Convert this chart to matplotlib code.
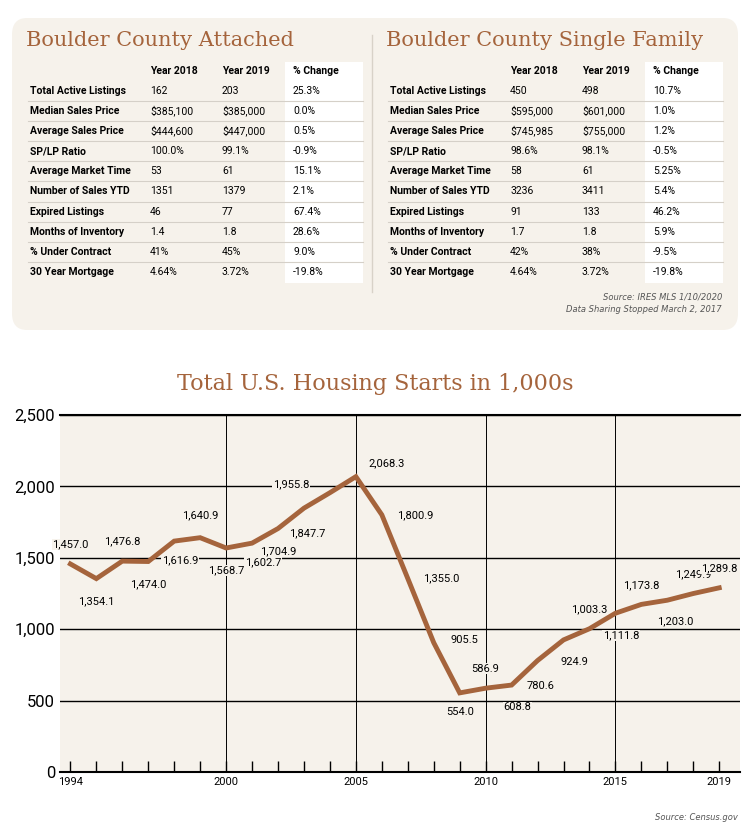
"""Boulder County market tables and U.S. housing starts chart."""

import matplotlib.pyplot as plt
from matplotlib.patches import FancyBboxPatch

BROWN = "#a5643c"
CREAM = "#f6f2eb"
NARROW = ["Liberation Sans Narrow", "Roboto", "DejaVu Sans"]

row_labels = ["Total Active Listings", "Median Sales Price", "Average Sales Price",
              "SP/LP Ratio", "Average Market Time", "Number of Sales YTD",
              "Expired Listings", "Months of Inventory", "% Under Contract",
              "30 Year Mortgage"]
col_headers = ["Year 2018", "Year 2019", "% Change"]

attached_2018 = ["162", "$385,100", "$444,600", "100.0%", "53", "1351", "46", "1.4", "41%", "4.64%"]
attached_2019 = ["203", "$385,000", "$447,000", "99.1%", "61", "1379", "77", "1.8", "45%", "3.72%"]
attached_chg = ["25.3%", "0.0%", "0.5%", "-0.9%", "15.1%", "2.1%", "67.4%", "28.6%", "9.0%", "-19.8%"]

single_2018 = ["450", "$595,000", "$745,985", "98.6%", "58", "3236", "91", "1.7", "42%", "4.64%"]
single_2019 = ["498", "$601,000", "$755,000", "98.1%", "61", "3411", "133", "1.8", "38%", "3.72%"]
single_chg = ["10.7%", "1.0%", "1.2%", "-0.5%", "5.25%", "5.4%", "46.2%", "5.9%", "-9.5%", "-19.8%"]

years = list(range(1994, 2020))
starts = [1457.0, 1354.1, 1476.8, 1474.0, 1616.9, 1640.9, 1568.7, 1602.7, 1704.9,
          1847.7, 1955.8, 2068.3, 1800.9, 1355.0, 905.5, 554.0, 586.9, 608.8,
          780.6, 924.9, 1003.3, 1111.8, 1173.8, 1203.0, 1249.9, 1289.8]

# label offsets in points (style only)
label_offsets = [(0, 14), (0, -16), (0, 14), (0, -16), (4, -14), (0, 16), (0, -16),
                 (8, -14), (0, -16), (2, -18), (-28, 6), (22, 10), (24, 0), (24, 0),
                 (22, 2), (0, -14), (0, 14), (4, -16), (2, -18), (8, -16), (0, 14),
                 (4, -16), (0, 14), (6, -15), (0, 14), (0, 14)]

W, H = 750, 834
fig = plt.figure(figsize=(W / 100, H / 100), dpi=100)
fig.patch.set_facecolor("white")


def fx(px):
    return px / W


def fy(py):
    return 1 - py / H


panel = FancyBboxPatch((fx(12), fy(330)), fx(726), fy(18) - fy(330),
                       boxstyle="round,pad=0,rounding_size=0.02",
                       transform=fig.transFigure, facecolor=CREAM, edgecolor="none")
fig.patches.append(panel)
fig.add_artist(plt.Line2D([fx(372), fx(372)], [fy(35), fy(292)],
                          transform=fig.transFigure, color="#d8d2c8", lw=1))


def draw_table(x0, title, c18, c19, chg):
    fig.text(fx(x0 - 4), fy(40), title, fontsize=15, color=BROWN,
             family="DejaVu Serif", va="center")
    cols = [x0 + 120, x0 + 192, x0 + 263]
    fig.patches.append(plt.Rectangle((fx(x0 + 255), fy(283)), fx(78), fy(62) - fy(283),
                                     transform=fig.transFigure, facecolor="white",
                                     edgecolor="none"))
    for cx, h in zip(cols, col_headers):
        fig.text(fx(cx), fy(71), h, fontsize=7.5, weight="bold", va="center", family=NARROW)
    for i, lab in enumerate(row_labels):
        y = 91 + i * 20.1
        fig.text(fx(x0), fy(y), lab, fontsize=7.5, weight="bold", va="center", family=NARROW)
        for cx, v in zip(cols, (c18[i], c19[i], chg[i])):
            fig.text(fx(cx), fy(y), v, fontsize=7.5, va="center", family=NARROW)
        if i < len(row_labels) - 1:
            fig.add_artist(plt.Line2D([fx(x0 - 2), fx(x0 + 333)], [fy(y + 10), fy(y + 10)],
                                      transform=fig.transFigure, color="#d5d0c8", lw=0.8))


draw_table(30, "Boulder County Attached", attached_2018, attached_2019, attached_chg)
draw_table(390, "Boulder County Single Family", single_2018, single_2019, single_chg)

fig.text(fx(722), fy(297), "Source: IRES MLS 1/10/2020", fontsize=6, style="italic",
         color="#555555", ha="right", va="center")
fig.text(fx(722), fy(310), "Data Sharing Stopped March 2, 2017", fontsize=6,
         style="italic", color="#555555", ha="right", va="center")

fig.text(0.5, fy(384), "Total U.S. Housing Starts in 1,000s", fontsize=16, color=BROWN,
         family="DejaVu Serif", ha="center", va="center")

ax = fig.add_axes([fx(60), fy(772), fx(680), fy(415) - fy(772)])
ax.set_facecolor(CREAM)
ax.plot(years, starts, color=BROWN, lw=3.5, solid_joinstyle="miter", zorder=3)
for x, v, (dx, dy) in zip(years, starts, label_offsets):
    ax.annotate(f"{v:,.1f}", (x, v), xytext=(dx, dy), textcoords="offset points",
                ha="center", va="center", fontsize=8, zorder=4, family=NARROW,
                bbox=dict(facecolor=CREAM, edgecolor="none", pad=0.5))
ax.set_xlim(1993.6, 2019.8)
ax.set_ylim(0, 2500)
ax.set_yticks([0, 500, 1000, 1500, 2000, 2500])
ax.set_yticklabels(["0", "500", "1,000", "1,500", "2,000", "2,500"], fontsize=12,
                   family=NARROW)
ax.set_xticks([1994, 2000, 2005, 2010, 2015, 2019])
ax.set_xticks(years, minor=True)
ax.set_xticklabels(["1994", "2000", "2005", "2010", "2015", "2019"], fontsize=8,
                   family=NARROW)
ax.tick_params(axis="x", which="both", direction="in", length=8, width=1)
ax.tick_params(axis="y", length=0)
ax.grid(axis="y", color="black", lw=1)
for gx in (2000, 2005, 2010, 2015):
    ax.axvline(gx, color="black", lw=0.7, zorder=1)
for s in ("left", "right"):
    ax.spines[s].set_visible(False)
ax.spines["top"].set_linewidth(1.5)
ax.spines["bottom"].set_linewidth(1.5)

fig.text(fx(738), fy(818), "Source: Census.gov", fontsize=6, style="italic",
         color="#555555", ha="right", va="center")

fig.savefig("out.png", dpi=100, facecolor="white")
